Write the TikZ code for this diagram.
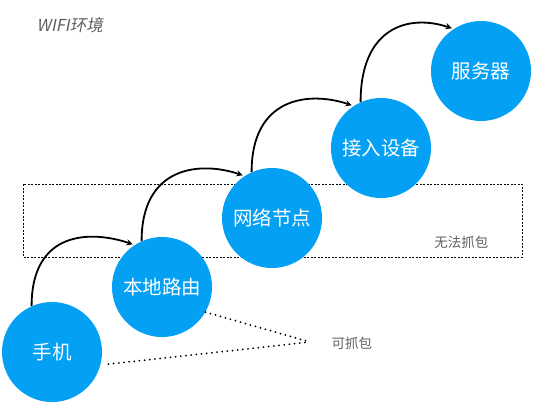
\documentclass[tikz,border=0pt]{standalone}
\usepackage{fontspec}
\setmainfont{Noto Sans CJK SC}
\newfontfamily\slantfont{Noto Sans CJK SC}[FakeSlant=0.2]
\definecolor{hostblue}{RGB}{3,160,244}
\definecolor{notegray}{RGB}{95,95,95}
\begin{document}
\begin{tikzpicture}[x=1pt, y=-1pt, line join=round, >=stealth,
	hop/.style={circle, fill=hostblue, text=white, minimum size=100pt, inner sep=0pt, font=\fontsize{19.5}{22}\selectfont},
	flow/.style={->, line width=1.8pt, shorten >=2pt},
	note/.style={text=notegray, font=\fontsize{13.5}{16}\selectfont}]
		\useasboundingbox (0,0) rectangle (534,410);
		% area where nothing can be captured
		\draw[line width=0.7pt, dash pattern=on 2pt off 1.5pt] (23,184) rectangle (522,257);
		\node[note, anchor=east] (nocap) at (492,242) {无法抓包};
		\node[note, anchor=north west, font=\fontsize{16.5}{19}\selectfont] (wifi) at (33,14) {\slantfont WIFI环境};
		\node[hop] (phone) at (52,352) {手机};
		\node[hop] (router) at (162,287) {本地路由};
		\node[hop] (netnode) at (272,218) {网络节点};
		\node[hop] (access) at (381,148) {接入设备};
		\node[hop] (server) at (481,71) {服务器};
		\foreach \s/\t in {phone/router,router/netnode,netnode/access,access/server}
			\draw[flow] (\s.114) .. controls +(0,-75) and +(-45,-15) .. (\t.123);
		% where capturing works
		\coordinate (cap) at (310,342);
		\node[note, anchor=west] (cannote) at (328,343) {可抓包};
		\draw[line width=2pt, line cap=round, dash pattern=on 0pt off 5.2pt] (router.-30) -- (cap);
		\draw[line width=2pt, line cap=round, dash pattern=on 0pt off 5.2pt, shorten <=8pt] (phone.-15) -- (cap);
\end{tikzpicture}
\end{document}
